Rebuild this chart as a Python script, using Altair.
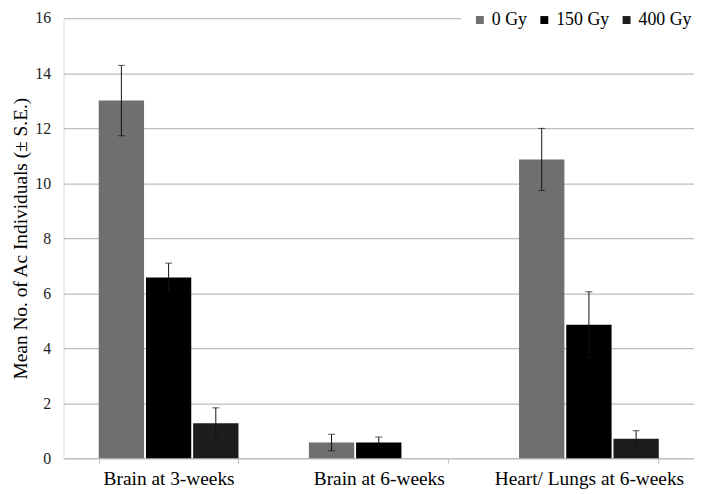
import altair as alt
import pandas as pd

categories = ["Brain at 3-weeks", "Brain at 6-weeks", "Heart/ Lungs at 6-weeks"]
doses = ["0 Gy", "150 Gy", "400 Gy"]
means_0 = [13.0, 0.57, 10.86]
se_0 = [1.28, 0.30, 1.13]
means_150 = [6.57, 0.57, 4.85]
se_150 = [0.52, 0.20, 1.20]
means_400 = [1.27, 0.0, 0.71]
se_400 = [0.56, 0.0, 0.29]
colors = ["#6f6f6f", "#000000", "#1d1d1d"]

rows = []
for dose, ms, ss in zip(doses, [means_0, means_150, means_400], [se_0, se_150, se_400]):
    for cat, m, s in zip(categories, ms, ss):
        rows.append({"cat": cat, "dose": dose, "mean": m, "lo": m - s, "hi": m + s, "se": s})
df = pd.DataFrame(rows)

FONT = "Liberation Serif"

x = alt.X("cat:N", sort=categories, title=None,
          scale=alt.Scale(paddingInner=0.335, paddingOuter=0.1675),
          axis=alt.Axis(labelAngle=0, labelFont=FONT, labelFontSize=19.5, labelColor="#000000",
                        labelPadding=7, labelLimit=400, domainColor="#bdbdbd", domainWidth=1.2,
                        tickColor="#bdbdbd", tickSize=5, tickWidth=1, tickBand="extent",
                        grid=False))
xo = alt.XOffset("dose:N", sort=doses, scale=alt.Scale(paddingInner=0.04))

bars = alt.Chart(df).mark_bar().encode(
    x=x,
    xOffset=xo,
    y=alt.Y("mean:Q", title="Mean No. of Ac Individuals (± S.E.)",
            scale=alt.Scale(domain=[0, 16], nice=False),
            axis=alt.Axis(values=[0, 2, 4, 6, 8, 10, 12, 14, 16], labelFont=FONT,
                          labelFontSize=16, labelColor="#222222", labelPadding=13,
                          ticks=False, domain=False, gridColor="#bdbdbd", gridWidth=1.2,
                          titleFont=FONT, titleFontSize=19.5, titleFontWeight="normal",
                          titleColor="#000000", titlePadding=4)),
    color=alt.Color("dose:N", sort=doses, title=None,
                    scale=alt.Scale(domain=doses, range=colors),
                    legend=alt.Legend(orient="none", legendX=401, legendY=-17,
                                      direction="horizontal", columns=3,
                                      symbolType="square", symbolSize=64, symbolStrokeWidth=0,
                                      labelFont=FONT, labelFontSize=18, labelColor="#000000",
                                      labelOffset=3, columnPadding=8, padding=10,
                                      labelLimit=200, fillColor="white")),
)

err_df = df[df["se"] > 0]
rules = alt.Chart(err_df).mark_rule(color="#111111", strokeWidth=1).encode(
    x=alt.X("cat:N", sort=categories),
    xOffset=alt.XOffset("dose:N", sort=doses),
    y="lo:Q",
    y2="hi:Q",
)
cap_lo = alt.Chart(err_df).mark_tick(color="#111111", thickness=1, size=7).encode(
    x=alt.X("cat:N", sort=categories),
    xOffset=alt.XOffset("dose:N", sort=doses),
    y="lo:Q",
)
cap_hi = alt.Chart(err_df).mark_tick(color="#111111", thickness=1, size=7).encode(
    x=alt.X("cat:N", sort=categories),
    xOffset=alt.XOffset("dose:N", sort=doses),
    y="hi:Q",
)

chart = alt.layer(bars, rules, cap_lo, cap_hi).properties(
    width=636, height=444,
    autosize=alt.AutoSizeParams(type="none"),
    padding={"left": 56, "top": 8, "right": 0, "bottom": 34},
).configure_view(stroke=None).configure(background="white")

chart.save("out.html", embed_options={"renderer": "svg", "actions": False})
